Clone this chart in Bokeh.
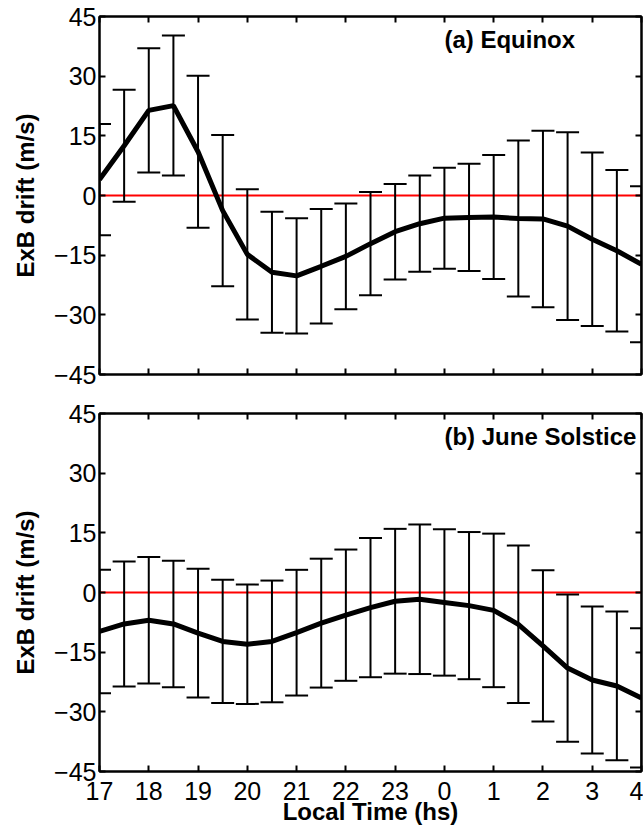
from bokeh.plotting import figure
from bokeh.layouts import column
from bokeh.models import (ColumnDataSource, FixedTicker, LinearAxis, Span, Label)
from bokeh.embed import file_html
from bokeh.resources import INLINE

# ---- data ----
local_time = [17, 17.5, 18, 18.5, 19, 19.5, 20, 20.5, 21, 21.5, 22, 22.5,
              23, 23.5, 24, 24.5, 25, 25.5, 26, 26.5, 27, 27.5, 28]

equinox_mean = [4.0, 12.5, 21.4, 22.6, 11.0, -3.8, -14.8, -19.3, -20.2, -17.8,
                -15.3, -12.1, -9.1, -7.1, -5.7, -5.5, -5.4, -5.8, -5.9, -7.7,
                -11.0, -13.9, -17.3]
equinox_std = [14.0, 14.1, 15.6, 17.6, 19.1, 19.0, 16.4, 15.2, 14.5, 14.4,
               13.3, 13.0, 12.0, 12.1, 12.7, 13.5, 15.6, 19.6, 22.2, 23.6,
               21.8, 20.3, 19.6]

june_mean = [-9.8, -7.9, -7.0, -7.9, -10.2, -12.3, -13.0, -12.3, -10.1, -7.7,
             -5.7, -3.8, -2.2, -1.7, -2.5, -3.3, -4.5, -8.0, -13.4, -19.0,
             -22.0, -23.5, -26.5]
june_std = [15.5, 15.7, 15.9, 15.9, 16.2, 15.5, 15.0, 15.3, 15.8, 16.2,
            16.5, 17.5, 18.2, 18.8, 18.4, 18.5, 19.3, 19.8, 19.0, 18.5,
            18.5, 18.7, 17.5]

hour_ticks = [17, 18, 19, 20, 21, 22, 23, 24, 25, 26, 27, 28]
hour_labels = ["17", "18", "19", "20", "21", "22", "23", "0", "1", "2", "3", "4"]
y_ticks = [-45, -30, -15, 0, 15, 30, 45]
y_labels = ["\u221245", "\u221230", "\u221215", "0", "15", "30", "45"]

panel_titles = ["(a) Equinox", "(b) June Solstice"]

FONT = "Liberation Sans"


def hide_labels(ax, ticks):
    ax.major_label_overrides = {t: "" for t in ticks}
    ax.major_label_text_font_size = "1px"
    ax.major_label_standoff = 0


def make_panel(mean, std, title, show_xlabels, border_top, border_bottom):
    upper = [m + s for m, s in zip(mean, std)]
    lower = [m - s for m, s in zip(mean, std)]
    src = ColumnDataSource(dict(x=local_time, mean=mean, upper=upper, lower=lower))

    p = figure(frame_width=542, frame_height=358, x_range=(17, 28), y_range=(-45, 45),
               output_backend="svg", toolbar_location=None,
               min_border_left=99, min_border_right=2,
               min_border_top=border_top, min_border_bottom=border_bottom,
               background_fill_color="white", border_fill_color="white")
    p.grid.visible = False
    p.outline_line_color = "black"
    p.outline_line_width = 2

    # zero line
    p.add_layout(Span(location=0, dimension="width", line_color="#ff0000",
                      line_width=2, level="underlay"))

    # error bars
    p.segment(x0="x", y0="lower", x1="x", y1="upper", source=src,
              line_color="black", line_width=2)
    p.scatter(x="x", y="upper", source=src, marker="dash", size=23,
              line_color="black", line_width=2)
    p.scatter(x="x", y="lower", source=src, marker="dash", size=23,
              line_color="black", line_width=2)
    # mean line
    p.line(x="x", y="mean", source=src, line_color="black", line_width=5)

    # axes styling
    xa = p.xaxis[0]
    ya = p.yaxis[0]
    xa.ticker = FixedTicker(ticks=hour_ticks)
    ya.ticker = FixedTicker(ticks=y_ticks)
    xa.major_label_overrides = {t: l for t, l in zip(hour_ticks, hour_labels)}
    ya.major_label_overrides = {t: l for t, l in zip(y_ticks, y_labels)}
    for ax in (xa, ya):
        ax.axis_line_width = 2
        ax.major_tick_line_width = 2
        ax.major_tick_in = 6
        ax.major_tick_out = 0
        ax.minor_tick_line_color = None
        ax.major_label_text_font = FONT
        ax.major_label_text_font_size = "25px"
        ax.major_label_text_color = "black"
        ax.axis_label_text_font = FONT
        ax.axis_label_text_font_size = "24px"
        ax.axis_label_text_font_style = "bold"
        ax.axis_label_text_color = "black"
    ya.major_label_standoff = 3
    ya.axis_label = "ExB drift (m/s)"
    ya.axis_label_standoff = 12
    if show_xlabels:
        xa.major_label_standoff = 10
        xa.axis_label = "Local Time (hs)"
        xa.axis_label_standoff = -5
    else:
        hide_labels(xa, hour_ticks)

    # mirrored axes (box with inward ticks)
    top = LinearAxis(ticker=FixedTicker(ticks=hour_ticks))
    right = LinearAxis(ticker=FixedTicker(ticks=y_ticks))
    hide_labels(top, hour_ticks)
    hide_labels(right, y_ticks)
    for ax in (top, right):
        ax.axis_line_width = 2
        ax.major_tick_line_width = 2
        ax.major_tick_in = 6
        ax.major_tick_out = 0
        ax.minor_tick_line_color = None
    p.add_layout(top, "above")
    p.add_layout(right, "right")

    # panel title
    p.add_layout(Label(x=24, y=39.3, text=title, text_font=FONT,
                       text_font_size="24px", text_font_style="bold",
                       text_color="black", text_align="left",
                       text_baseline="middle"))
    return p


p1 = make_panel(equinox_mean, equinox_std, panel_titles[0], False, 16, 19)
p2 = make_panel(june_mean, june_std, panel_titles[1], True, 20, 10)

layout = column(p1, p2, spacing=0)

with open("out.html", "w") as f:
    f.write(file_html(layout, INLINE))
